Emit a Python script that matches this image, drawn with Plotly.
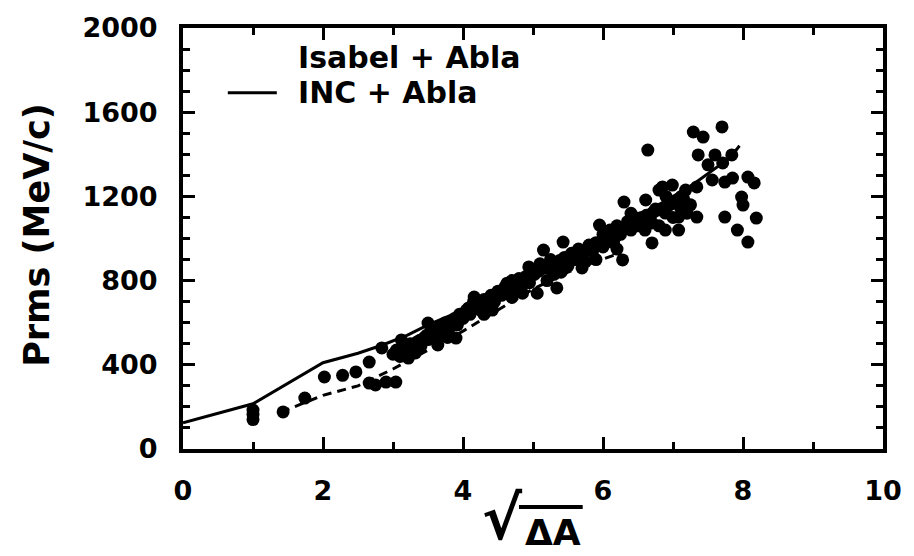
import plotly.graph_objects as go

# ---- data: Isabel + Abla (points) ----
isabel_x = [1.0, 1.0, 1.0, 1.43, 1.74, 2.02, 2.28, 2.47, 2.66, 2.66, 2.75, 2.84, 2.9, 3.04,
            3.0, 3.05, 3.1, 3.12, 3.15, 3.2, 3.22, 3.25, 3.3, 3.32, 3.35, 3.4, 3.4, 3.45, 3.5, 3.5,
            3.55, 3.6, 3.62, 3.64, 3.68, 3.7, 3.75, 3.78, 3.8, 3.85, 3.9, 3.92, 3.95, 4.0,
            4.05, 4.1, 4.15, 4.16, 4.2, 4.25, 4.3, 4.3, 4.35, 4.4, 4.42, 4.45, 4.5,
            4.55, 4.6, 4.63, 4.65, 4.7, 4.7, 4.75, 4.8, 4.85, 4.85, 4.9, 4.94, 4.95, 5.0,
            5.05, 5.06, 5.1, 5.15, 5.2, 5.2, 5.25, 5.3, 5.34, 5.35, 5.4, 5.43, 5.45, 5.5,
            5.55, 5.6, 5.65, 5.7, 5.7, 5.75, 5.8, 5.85, 5.9, 5.9, 5.95, 6.0, 6.0,
            6.05, 6.1, 6.15, 6.2, 6.2, 6.25, 6.28, 6.3, 6.35, 6.4, 6.4, 6.45, 6.5,
            6.55, 6.6, 6.61, 6.64, 6.65, 6.7, 6.7, 6.75, 6.8, 6.8, 6.85, 6.89, 6.89, 6.9, 6.95, 6.99, 7.0,
            7.05, 7.08, 7.08, 7.12, 7.18, 7.2, 7.25, 7.29, 7.34, 7.34, 7.36, 7.43,
            7.5, 7.56, 7.6, 7.7, 7.71, 7.74, 7.74, 7.84, 7.85, 7.92, 7.98, 8.0, 8.07, 8.07, 8.16, 8.19,
            3.08, 3.18, 3.28, 3.38, 3.48, 3.58, 3.66, 3.72, 3.82, 3.88, 3.98, 4.08, 4.12, 4.22, 4.28,
            4.38, 4.48, 4.52, 4.58, 4.68, 4.72, 4.78, 4.88, 4.98, 5.02, 5.08, 5.12, 5.18, 5.28, 5.32,
            5.38, 5.48, 5.52, 5.58, 5.62, 5.68, 5.78, 5.82, 5.88, 5.98, 6.02, 6.08, 6.12, 6.18, 6.22,
            6.32, 6.38, 6.42, 6.48, 6.52, 6.58, 6.62, 6.68, 6.72, 6.78, 6.82, 6.88, 6.92, 6.98, 7.02,
            7.1, 7.15]
isabel_y = [140, 165, 185, 176, 242, 342, 350, 366, 413, 313, 304, 480, 318, 318,
            450, 470, 440, 518, 480, 460, 432, 500, 470, 456, 510, 490, 518, 530, 520, 598,
            540, 560, 520, 494, 580, 550, 600, 530, 570, 610, 527, 590, 640, 620,
            660, 640, 700, 722, 680, 660, 710, 640, 690, 730, 660, 700, 750,
            730, 770, 788, 740, 800, 720, 760, 810, 780, 740, 820, 865, 790, 840,
            850, 740, 880, 945, 860, 800, 900, 830, 765, 880, 840, 983, 910, 870,
            930, 900, 950, 920, 860, 890, 969, 940, 980, 900, 1064, 960, 1020,
            1000, 1040, 980, 1060, 950, 1020, 898, 1173, 1080, 1040, 1120, 1100, 1060,
            1100, 1040, 1183, 1420, 1080, 1074, 979, 1140, 1230, 1060, 1245, 1121, 1040, 1200, 1160, 1254, 1100,
            1180, 1102, 1040, 1200, 1230, 1120, 1160, 1506, 1245, 1102, 1397, 1482,
            1350, 1278, 1397, 1530, 1359, 1268, 1102, 1397, 1287, 1040, 1197, 1159, 1292, 983, 1264, 1097,
            465, 485, 495, 515, 540, 555, 575, 590, 600, 620, 640, 670, 665, 690, 700,
            715, 735, 745, 755, 770, 785, 790, 805, 825, 830, 845, 855, 865, 880, 875,
            895, 905, 900, 915, 925, 935, 945, 955, 965, 985, 995, 1010, 1015, 1030, 1040,
            1055, 1065, 1075, 1085, 1090, 1100, 1110, 1115, 1125, 1135, 1140, 1150, 1160, 1170, 1175,
            1150, 1190]

# ---- data: INC + Abla (solid line) ----
inc_x = [0.0, 1.0, 2.0, 2.5, 2.85, 3.2, 3.5, 4.0, 4.5, 5.0, 5.3, 5.5, 5.8, 6.05, 6.15,
         6.4, 6.6, 6.8, 7.0, 7.3, 7.6, 7.8, 7.95, 7.88]
inc_y = [125, 215, 410, 455, 494, 540, 590, 660, 730, 810, 880, 870, 930, 1060, 960,
         1060, 1120, 1150, 1200, 1260, 1330, 1380, 1440, 1410]

# ---- data: dashed curve ----
dash_x = [1.4, 2.0, 2.5, 3.0, 3.5, 4.0, 4.5, 5.0, 5.5, 6.0, 6.15, 6.3]
dash_y = [175, 255, 300, 380, 470, 560, 660, 760, 840, 900, 920, 880]

# ---- tick labels ----
x_ticks = [0, 2, 4, 6, 8, 10]
y_ticks = [0, 400, 800, 1200, 1600, 2000]

FONT = "DejaVu Sans"

fig = go.Figure()
fig.add_trace(go.Scatter(x=dash_x, y=dash_y, mode="lines",
                         line=dict(color="black", width=3, dash="9px,6px"), showlegend=False))
fig.add_trace(go.Scatter(x=inc_x, y=inc_y, mode="lines",
                         line=dict(color="black", width=3), showlegend=False))
fig.add_trace(go.Scatter(x=isabel_x, y=isabel_y, mode="markers",
                         marker=dict(color="black", size=13, line=dict(width=0)), showlegend=False))

axis_common = dict(showline=True, linewidth=4, linecolor="black", mirror="allticks",
                   ticks="inside", ticklen=12, tickwidth=3, tickcolor="black",
                   showgrid=False, zeroline=False,
                   tickfont=dict(family=FONT, size=27, color="black", weight="bold"))

fig.update_xaxes(range=[0, 10], tickmode="array", tickvals=x_ticks,
                 ticktext=[str(v) for v in x_ticks], ticklabelstandoff=15,
                 minor=dict(ticks="inside", ticklen=7, tickwidth=3, tickcolor="black", dtick=1),
                 **axis_common)
fig.update_yaxes(range=[0, 2000], tickmode="array", tickvals=y_ticks,
                 ticktext=[str(v) for v in y_ticks], ticklabelstandoff=16,
                 minor=dict(ticks="inside", ticklen=7, tickwidth=3, tickcolor="black", dtick=100),
                 **axis_common)

annotations = [
    dict(text="Prms (MeV/c)", textangle=-90, xref="paper", yref="paper",
         x=-0.209, y=0.508, showarrow=False, xanchor="center", yanchor="middle",
         font=dict(family=FONT, size=35, color="black", weight="bold")),
    dict(text="√", xref="paper", yref="paper", x=0.456, y=-0.164, showarrow=False,
         xanchor="center", yanchor="middle",
         font=dict(family=FONT, size=60, color="black", weight="bold")),
    dict(text="ΔA", xref="paper", yref="paper", x=0.528, y=-0.198, showarrow=False,
         xanchor="center", yanchor="middle",
         font=dict(family=FONT, size=36, color="black", weight="bold")),
    dict(text="Isabel + Abla", xref="paper", yref="paper", x=0.161, y=0.931, showarrow=False,
         xanchor="left", yanchor="middle",
         font=dict(family=FONT, size=30, color="black", weight="bold")),
    dict(text="INC + Abla", xref="paper", yref="paper", x=0.161, y=0.846, showarrow=False,
         xanchor="left", yanchor="middle",
         font=dict(family=FONT, size=30, color="black", weight="bold")),
]

shapes = [
    # legend line sample
    dict(type="line", xref="paper", yref="paper", x0=0.064, x1=0.134, y0=0.846, y1=0.846,
         line=dict(color="black", width=3)),
    # overline of the square root
    dict(type="line", xref="paper", yref="paper", x0=0.480, x1=0.571, y0=-0.138, y1=-0.138,
         line=dict(color="black", width=4)),
]

fig.update_layout(width=914, height=556, margin=dict(l=183, r=24, t=28, b=107),
                  paper_bgcolor="white", plot_bgcolor="white",
                  annotations=annotations, shapes=shapes, showlegend=False)

fig.write_html("out.html")
